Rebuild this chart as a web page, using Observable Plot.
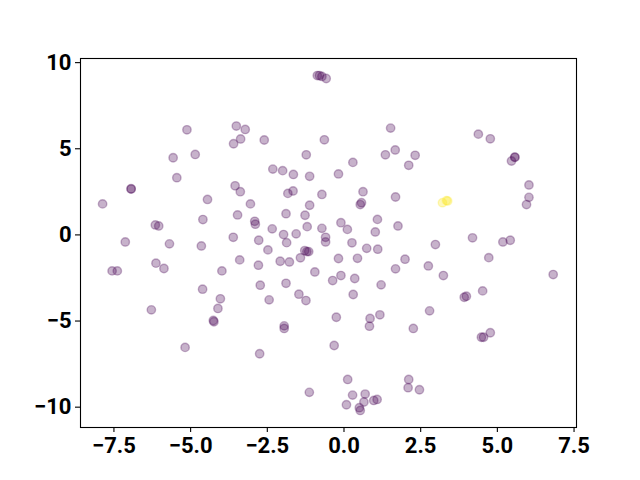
<!DOCTYPE html>
<html>
<head>
<meta charset="utf-8">
<script src="https://cdn.jsdelivr.net/npm/d3@7"></script>
<script src="https://cdn.jsdelivr.net/npm/@observablehq/plot@0.6"></script>
<style>
  html, body { margin: 0; padding: 0; background: #fff; }
  #chart svg { display: block; }
  #chart svg text { font-family: Roboto, sans-serif !important; font-size: 22px !important; font-weight: 700 !important; }
</style>
</head>
<body>
<div id="chart"></div>
<script>
const xs = [
  -5.12, -3.51, -3.22, -3.37, -3.60, -5.57, -4.85, -5.45, -6.94, -6.94,
  -3.55, -3.38, -4.45, -3.05, -3.47, -4.60, -7.87, -6.15, -6.04, -7.13,
  -5.69, -4.65, -3.61, -3.40, -6.13, -5.87, -7.56, -7.39, -3.98, -4.61,
  -4.03, -6.28, -4.11, -4.26, -4.24, -5.18,
  -0.87, -0.80, -0.72, -0.58,
  -2.60, -0.64, 1.52, -1.23, 1.35, 1.67, -2.32, -2.00, -1.65, -1.12,
  -0.18, 0.29, 2.11, 2.32, 4.38, 4.77, 5.57, 5.57, 5.46, 6.03,
  6.03, 5.95, -1.83, -1.66, -0.72, 0.62, 0.53, 0.57, 1.68, -1.12,
  -1.89, -1.27, -2.91, -2.89, -2.34, -1.97, -1.56, -1.20, -0.72, -0.60,
  -0.60, -0.10, 0.11, 1.09, 1.76, 1.02, -2.78, -1.87, 0.26, 0.74,
  1.10, -2.48, -1.28, -1.21, -1.15, -1.42, -2.08, -1.78, -0.18, 0.44,
  1.99, 1.68, -2.79, -0.95, -0.10, -0.37, 0.35, -2.73, -1.89, 1.21,
  -1.47, -1.24, 0.30, -2.44,
  3.21, 3.34, 3.38,
  4.19, 5.18, 5.42, 2.98, 2.75, 3.24, 4.72, 6.82, 4.52, 3.92,
  3.99, 2.79, 2.26, 4.48, 4.55, 4.77, 2.46,
  -0.25, 0.85, 0.83, 1.17, -1.95, -1.95, -2.75, -0.32, 0.12, 2.11,
  2.09, -1.13, 0.28, 0.69, 0.08, 0.65, 0.50, 0.53, 0.97, 1.08
];
const ys = [
  6.10, 6.32, 6.12, 5.57, 5.29, 4.48, 4.67, 3.32, 2.68, 2.66,
  2.85, 2.51, 2.06, 1.80, 1.16, 0.89, 1.80, 0.58, 0.52, -0.41,
  -0.52, -0.64, -0.14, -1.45, -1.64, -1.95, -2.09, -2.09, -2.09, -3.15,
  -3.71, -4.35, -4.27, -4.97, -5.04, -6.53,
  9.25, 9.25, 9.20, 9.08,
  5.51, 5.52, 6.20, 4.65, 4.65, 4.93, 3.82, 3.73, 3.51, 3.40,
  3.54, 4.21, 4.04, 4.62, 5.85, 5.58, 4.52, 4.50, 4.29, 2.90,
  2.18, 1.76, 2.41, 2.55, 2.35, 2.51, 1.76, 1.87, 2.20, 1.72,
  1.23, 1.14, 0.79, 0.62, 0.35, 0.02, 0.06, 0.48, 0.38, -0.14,
  -0.41, 0.71, 0.32, 0.90, 0.52, 0.17, -0.31, -0.45, -0.46, -0.78,
  -0.83, -0.87, -0.91, -0.97, -0.97, -1.33, -1.53, -1.57, -1.37, -1.36,
  -1.41, -1.97, -1.76, -2.15, -2.36, -2.65, -2.53, -2.92, -2.81, -2.90,
  -3.44, -3.81, -3.46, -3.77,
  1.87, 1.99, 1.97,
  -0.17, -0.41, -0.31, -0.56, -1.80, -2.36, -1.32, -2.30, -3.25, -3.62,
  -3.56, -4.41, -5.43, -5.94, -5.94, -5.68, -8.99,
  -4.78, -4.85, -5.30, -4.64, -5.28, -5.43, -6.90, -6.42, -8.39, -8.39,
  -8.87, -9.14, -9.30, -9.24, -9.86, -9.70, -10.03, -10.19, -9.61, -9.55
];
const labels = xs.map((_, i) => (i >= 114 && i <= 116) ? 1 : 0);

const xTicks = [-7.5, -5.0, -2.5, 0.0, 2.5, 5.0, 7.5];
const yTicks = [-10, -5, 0, 5, 10];

const data = xs.map((x, i) => ({x, y: ys[i], c: labels[i]}));

const font = {fontFamily: "Roboto", fontSize: 22, fontWeight: "bold", fill: "black"};

const chart = Plot.plot({
  width: 640,
  height: 480,
  marginLeft: 80,
  marginRight: 64,
  marginTop: 58,
  marginBottom: 53,
  style: {background: "white", color: "black", fontSize: "22px"},
  x: {domain: [-8.59, 7.58]},
  y: {domain: [-11.18, 10.24]},
  color: {type: "linear", scheme: "viridis", domain: [0, 1]},
  marks: [
    Plot.axisX({ticks: xTicks, tickFormat: d3.format(".1f"), tickSize: 5, tickPadding: 5, label: null, stroke: "black", strokeWidth: 1.1, ...font}),
    Plot.axisY({ticks: yTicks, tickFormat: d3.format("d"), tickSize: 5, tickPadding: 4, label: null, stroke: "black", strokeWidth: 1.1, ...font}),
    Plot.dot(data, {x: "x", y: "y", r: 4.2, fill: "c", stroke: "c", fillOpacity: 0.3, strokeOpacity: 0.3, strokeWidth: 1.4}),
    Plot.frame({stroke: "black", strokeWidth: 1.1})
  ]
});
document.getElementById("chart").appendChild(chart);
</script>
</body>
</html>
